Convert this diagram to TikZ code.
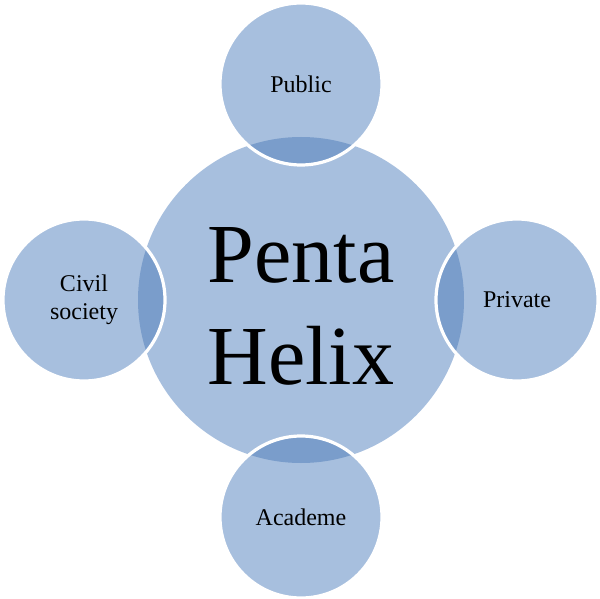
\documentclass[tikz,border=0pt]{standalone}
\usepackage{fontspec}
\setmainfont{Liberation Serif}
\definecolor{lightb}{RGB}{167,191,222}
\definecolor{darkb}{RGB}{122,157,203}
\begin{document}
\begin{tikzpicture}[x=0.5pt,y=-0.5pt,
  bigc/.style={circle,fill=lightb,minimum size=163pt,inner sep=0pt},
  smallc/.style={circle,fill=lightb,minimum size=81pt,inner sep=0pt,align=center,
    font=\fontsize{12}{14}\selectfont},
  bigtxt/.style={align=center,inner sep=0pt,font=\fontsize{42}{51}\selectfont},
  ring/.style={draw=white,line width=1.6pt}]
\useasboundingbox (0,0) rectangle (600,599);
\node[bigc] (c) at (301,300) {};
\node[smallc] (pub) at (301,84) {Public};
\node[smallc] (pri) at (517,300) {Private};
\node[smallc] (aca) at (301,517) {Academe};
\node[smallc] (civ) at (84,300) {Civil\\society};
\begin{scope}
  \clip (c.center) circle (81.5pt);
  \foreach \n in {pub,pri,aca,civ} \fill[darkb] (\n.center) circle (40.5pt);
\end{scope}
\foreach \n in {pub,pri,aca,civ} \draw[ring] (\n.center) circle (40.5pt);
\node[bigtxt] (title) at (301,306) {Penta\\Helix};
\end{tikzpicture}
\end{document}
